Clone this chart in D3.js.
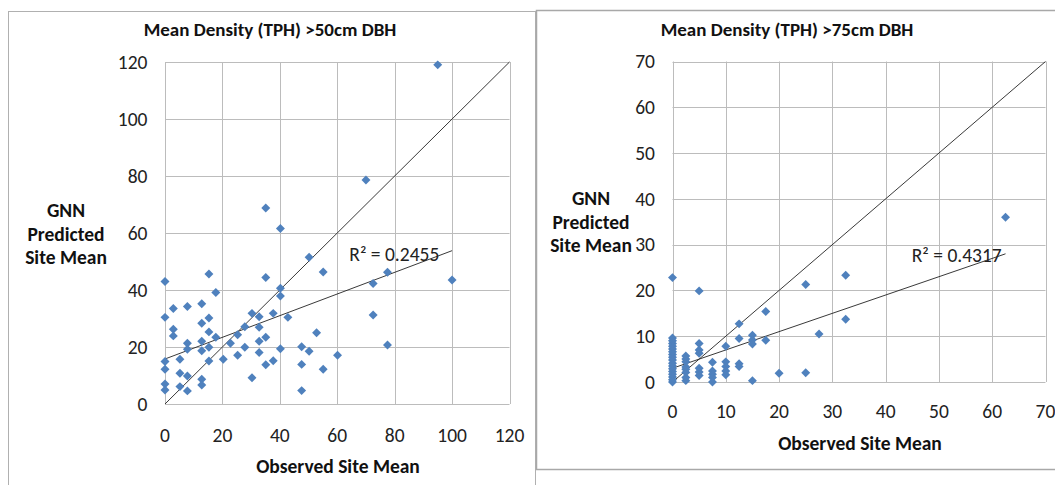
<!DOCTYPE html>
<html>
<head>
<meta charset="utf-8">
<script src="https://cdn.jsdelivr.net/npm/d3@7"></script>
<style>
    body { margin: 0; background: #fff; }
    svg { display: block; font-family: Carlito, Lato, "Open Sans", sans-serif; }
    .tick-label { font-size: 19.5px; fill: #222; }
    .axis-title { font-size: 19.5px; font-weight: bold; fill: #111; }
    .chart-title { font-size: 19px; font-weight: bold; fill: #111; }
</style>
</head>
<body>
<div id="chart"></div>
<script>
// observed vs predicted, >50cm DBH
const leftPoints = [
    [0, 43], [0, 30.4], [0, 14.9], [0, 12.2], [0, 7], [0, 4.9],
    [2.9, 33.5], [2.9, 26.2], [2.9, 23.9],
    [5.2, 15.7], [5.2, 10.8], [5.2, 6.1],
    [7.8, 34.2], [7.8, 21.3], [7.8, 19.2], [7.8, 9.8], [7.8, 4.6],
    [12.8, 35.2], [12.8, 28.3], [12.8, 22], [12.8, 18.7], [12.8, 8.7], [12.8, 6.7],
    [15.3, 45.6], [15.3, 30.2], [15.3, 25.3], [15.3, 19.9], [15.3, 15.1],
    [17.7, 39.1], [17.7, 23.4],
    [20.3, 15.7], [22.8, 21.3], [25.3, 24.3], [25.3, 17.1], [27.8, 27.1], [27.8, 19.9],
    [30.3, 31.8], [30.3, 9.2],
    [32.8, 30.6], [32.8, 26.9], [32.8, 22], [32.8, 18.1],
    [35.1, 68.8], [35.1, 44.4], [35.1, 23.4], [35.1, 13.8],
    [37.7, 31.8], [37.7, 15.2],
    [40.2, 61.6], [40.2, 40.6], [40.2, 37.9], [40.2, 19.4],
    [42.8, 30.4],
    [47.6, 20.1], [47.6, 13.9], [47.6, 4.7],
    [50.2, 51.5], [50.2, 18.5],
    [52.8, 25],
    [55.1, 46.3], [55.1, 12.2],
    [60.1, 17.1],
    [70, 78.6],
    [72.5, 42.3], [72.5, 31.2],
    [77.5, 46.2], [77.5, 20.7],
    [95, 119],
    [100, 43.5]
];
const leftTicks = [0, 20, 40, 60, 80, 100, 120];
const leftTrend = [15.8, 0.38];   // intercept, slope
const leftR2 = "0.2455";

// observed vs predicted, >75cm DBH
const rightPoints = [
    [0, 22.8],
    [0, 0], [0, 0.5], [0, 1.1], [0, 1.7], [0, 2.3], [0, 2.9], [0, 3.5], [0, 4.1], [0, 4.8],
    [0, 5.4], [0, 6], [0, 6.6], [0, 7.2], [0, 7.8], [0, 8.4], [0, 9], [0, 9.6],
    [2.5, 0.3], [2.5, 1], [2.5, 2.1], [2.5, 2.8], [2.5, 3.3], [2.5, 4.4], [2.5, 5], [2.5, 5.7],
    [5, 19.9], [5, 8.4], [5, 7], [5, 6.3], [5, 3], [5, 2.2], [5, 1.4],
    [7.5, 4.3], [7.5, 2.4], [7.5, 1.7], [7.5, 1], [7.5, 0],
    [10, 7.8], [10, 4.4], [10, 3.4], [10, 2.4], [10, 1.6],
    [12.5, 12.7], [12.5, 9.5], [12.5, 4], [12.5, 3.4],
    [15, 10.2], [15, 9.2], [15, 8.3], [15, 0.3],
    [17.5, 15.4], [17.5, 9.1],
    [20, 1.9],
    [25, 21.3], [25, 2],
    [27.5, 10.5],
    [32.5, 23.3], [32.5, 13.7],
    [62.5, 36]
];
const rightTicks = [0, 10, 20, 30, 40, 50, 60, 70];
const rightTrend = [3.0, 0.4];
const rightR2 = "0.4317";

const yTitleLines = ["GNN", "Predicted", "Site Mean"];

let svg = d3.select("#chart").append("svg")
    .attr("width", 1055)
    .attr("height", 485);

// outer chart frames
svg.append("rect")
    .attr("x", 8.5).attr("y", 11.5)
    .attr("width", 527).attr("height", 490)
    .attr("fill", "none").attr("stroke", "#b0b0b0");
svg.append("rect")
    .attr("x", 536.5).attr("y", 10.5)
    .attr("width", 530).attr("height", 459)
    .attr("fill", "none").attr("stroke", "#a8a8a8").attr("stroke-width", 1.5);

function drawChart(cfg) {
    let x = d3.scaleLinear().domain(d3.extent(cfg.ticks)).range([cfg.left, cfg.right]);
    let y = d3.scaleLinear().domain(d3.extent(cfg.ticks)).range([cfg.bottom, cfg.top]);
    let g = svg.append("g");

    // gridlines
    g.append("g").selectAll("line.v")
        .data(cfg.ticks)
        .join("line")
        .attr("x1", d => Math.round(x(d)) + 0.5).attr("x2", d => Math.round(x(d)) + 0.5)
        .attr("y1", y.range()[0]).attr("y2", y.range()[1])
        .attr("stroke", "#bcbcbc");
    g.append("g").selectAll("line.h")
        .data(cfg.ticks)
        .join("line")
        .attr("y1", d => Math.round(y(d)) + 0.5).attr("y2", d => Math.round(y(d)) + 0.5)
        .attr("x1", x.range()[0]).attr("x2", x.range()[1])
        .attr("stroke", "#bcbcbc");

    // tick labels
    g.append("g").selectAll("text")
        .data(cfg.ticks)
        .join("text")
        .attr("class", "tick-label")
        .attr("x", cfg.left - 17.5)
        .attr("y", d => y(d))
        .attr("dy", "0.35em")
        .attr("text-anchor", "end")
        .text(d => d);
    g.append("g").selectAll("text")
        .data(cfg.ticks)
        .join("text")
        .attr("class", "tick-label")
        .attr("x", d => x(d))
        .attr("y", cfg.bottom + cfg.xLabelGap)
        .attr("text-anchor", "middle")
        .text(d => d);

    // 1:1 line
    let t = d3.extent(cfg.ticks);
    g.append("line")
        .attr("x1", x(t[0])).attr("y1", y(t[0]))
        .attr("x2", x(t[1])).attr("y2", y(t[1]))
        .attr("stroke", "#222").attr("stroke-width", 0.9);

    // linear trendline over observed range
    let xr = d3.extent(cfg.points, d => d[0]);
    g.append("line")
        .attr("x1", x(xr[0])).attr("y1", y(cfg.trend[0] + cfg.trend[1] * xr[0]))
        .attr("x2", x(xr[1])).attr("y2", y(cfg.trend[0] + cfg.trend[1] * xr[1]))
        .attr("stroke", "#222").attr("stroke-width", 0.9);

    // diamonds
    g.append("g").selectAll("path")
        .data(cfg.points)
        .join("path")
        .attr("d", d3.symbol().type(d3.symbolSquare).size(40))
        .attr("transform", d => `translate(${x(d[0])},${y(d[1])}) rotate(45)`)
        .attr("fill", "#4f81bd");

    // R² label
    g.append("text")
        .attr("class", "tick-label")
        .attr("x", x(cfg.r2Pos[0]))
        .attr("y", y(cfg.r2Pos[1]))
        .text("R² = " + cfg.r2);

    // titles
    g.append("text")
        .attr("class", "chart-title")
        .attr("x", cfg.titlePos[0]).attr("y", cfg.titlePos[1])
        .attr("text-anchor", "middle")
        .text(cfg.title);
    g.append("text")
        .attr("class", "axis-title")
        .attr("x", cfg.xTitlePos[0]).attr("y", cfg.xTitlePos[1])
        .attr("text-anchor", "middle")
        .text("Observed Site Mean");
    g.append("g").selectAll("text")
        .data(yTitleLines)
        .join("text")
        .attr("class", "axis-title")
        .attr("x", cfg.yTitlePos[0])
        .attr("y", (d, i) => cfg.yTitlePos[1] + i * 23.5)
        .attr("text-anchor", "middle")
        .text(d => d);
}

drawChart({
    points: leftPoints, ticks: leftTicks, trend: leftTrend, r2: leftR2,
    left: 165, right: 509.5, top: 62, bottom: 404, xLabelGap: 38,
    r2Pos: [64.2, 50.3],
    title: "Mean Density (TPH) >50cm DBH", titlePos: [270, 36],
    xTitlePos: [338, 473], yTitlePos: [66, 217]
});

drawChart({
    points: rightPoints, ticks: rightTicks, trend: rightTrend, r2: rightR2,
    left: 672.5, right: 1045.5, top: 61.5, bottom: 382, xLabelGap: 35.5,
    r2Pos: [44.9, 26.2],
    title: "Mean Density (TPH) >75cm DBH", titlePos: [787, 36],
    xTitlePos: [860, 450], yTitlePos: [591, 205]
});
</script>
</body>
</html>
